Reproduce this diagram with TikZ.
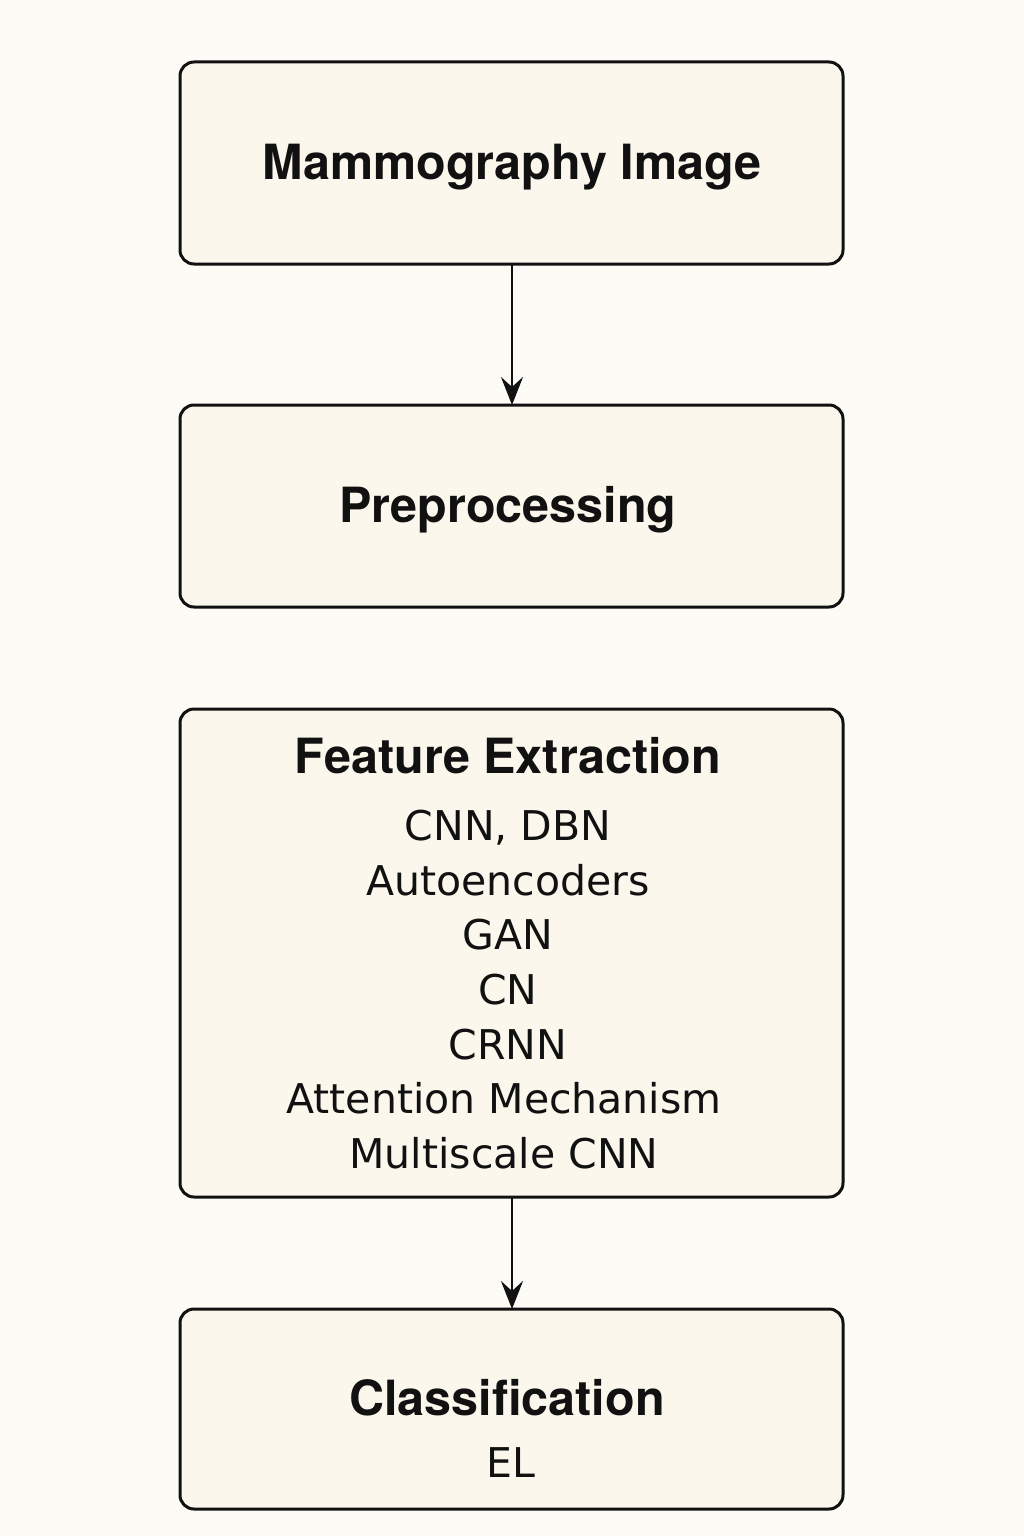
\documentclass[tikz,border=0pt]{standalone}
\usepackage{fontspec}
\setmainfont{TeX Gyre Heros}
\newfontfamily\listfont{DejaVu Sans}
\usetikzlibrary{arrows.meta}
\definecolor{bgcol}{HTML}{FDFBF6}
\definecolor{boxfill}{HTML}{FBF7EC}
\definecolor{inkcol}{HTML}{111111}
\begin{document}
\begin{tikzpicture}[x=1pt,y=-1pt,
  box/.style={draw=inkcol, line width=3pt, fill=boxfill, rounded corners=14pt, minimum width=663pt, inner sep=0pt, outer sep=0pt},
  title/.style={anchor=base, font=\fontsize{48.5}{56}\selectfont\bfseries, text=inkcol, inner sep=0pt},
  item/.style={anchor=base, font=\listfont\fontsize{41}{48}\selectfont, text=inkcol, inner sep=0pt},
  arr/.style={draw=inkcol, line width=2.5pt, -{Stealth[length=28pt,width=22pt,inset=10pt]}}
]
\fill[bgcol] (0,0) rectangle (1024,1536);
\useasboundingbox (0,0) rectangle (1024,1536);
\node[box, minimum height=202pt] (b1) at (511.5,163) {};
\node[box, minimum height=202pt] (b2) at (511.5,506) {};
\node[box, minimum height=488pt] (b3) at (511.5,953) {};
\node[box, minimum height=200pt] (b4) at (511.5,1409) {};

\node[title] (t1) at (512,179) {Mammography Image};
\node[title] (t2) at (508,522) {Preprocessing};
\node[title] (t3) at (508,773) {Feature Extraction};
\node[item] (i1) at (508,840) {CNN, DBN};
\node[item] (i2) at (508,895) {Autoencoders};
\node[item] (i3) at (508,949) {GAN};
\node[item] (i4) at (508,1004) {CN};
\node[item] (i5) at (508,1059) {CRNN};
\node[item] (i6) at (504,1113) {Attention Mechanism};
\node[item] (i7) at (504,1168) {Multiscale CNN};
\node[title] (t4) at (507,1415) {Classification};
\node[item] (e1) at (511,1477) {EL};

\draw[arr] (b1.south -| 512,0) -- (b2.north -| 512,0);
\draw[arr] (b3.south -| 512,0) -- (b4.north -| 512,0);
\end{tikzpicture}
\end{document}
